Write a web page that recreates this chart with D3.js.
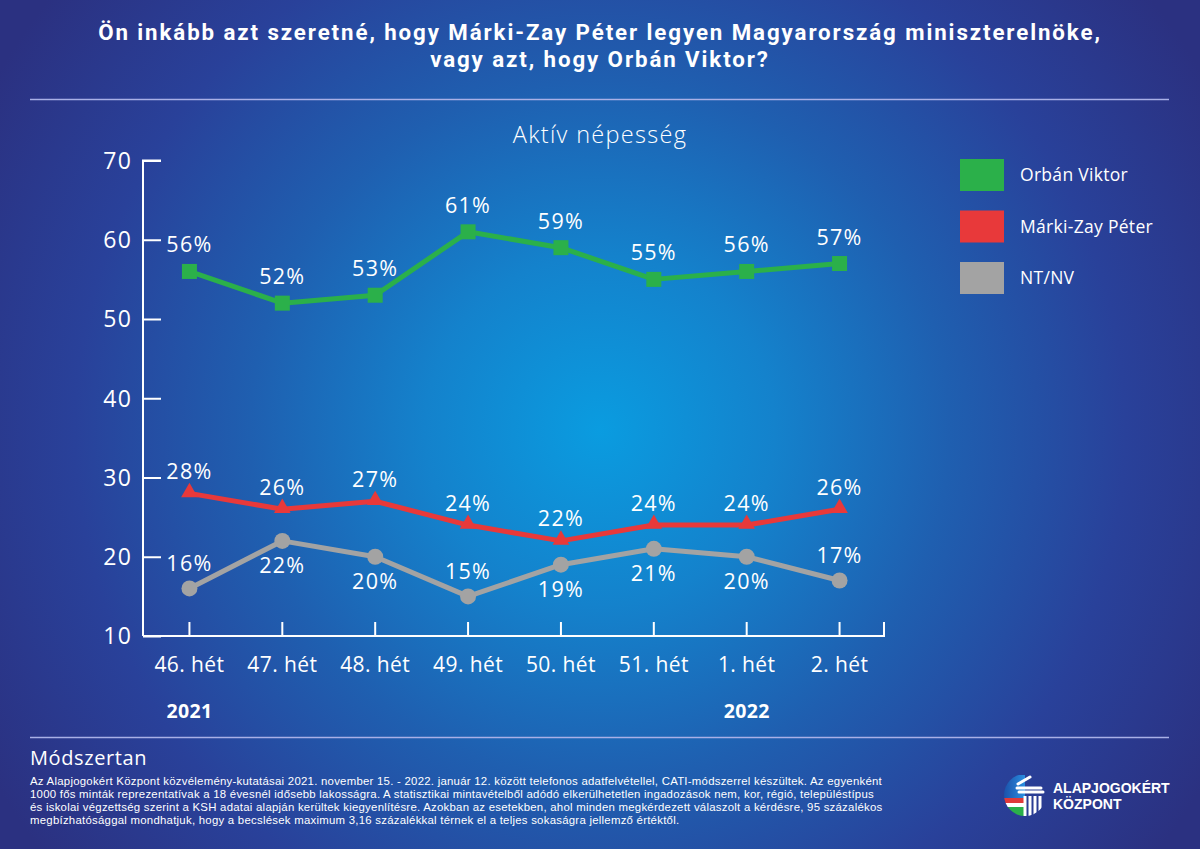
<!DOCTYPE html>
<html><head><meta charset="utf-8">
<script src="https://cdn.jsdelivr.net/npm/d3@7"></script>
<style>
html,body{margin:0;padding:0;background:#2b3282;}
svg{display:block;font-family:"Open Sans","Noto Sans",sans-serif;}
</style></head>
<body>
<svg id="c" width="1200" height="849"></svg>
<script>
const weeks = ["46. hét","47. hét","48. hét","49. hét","50. hét","51. hét","1. hét","2. hét"];
const years = [{week:"46. hét", label:"2021"},{week:"1. hét", label:"2022"}];
const orban = [56,52,53,61,59,55,56,57];
const markiZay = [28,26,27,24,22,24,24,26];
const ntnv = [16,22,20,15,19,21,20,17];
const ntnvLabelSide = ["above","below","below","above","below","below","below","above"];
const yTicks = [10,20,30,40,50,60,70];
const seriesNames = ["Orbán Viktor","Márki-Zay Péter","NT/NV"];
const seriesColors = ["#2bb04a","#e8393a","#a3a3a3"];
const titleLines = ["Ön inkább azt szeretné, hogy Márki-Zay Péter legyen Magyarország miniszterelnöke,","vagy azt, hogy Orbán Viktor?"];

const svg = d3.select("#c");
const W = 1200, H = 849;

// background
const defs = svg.append("defs");
const rg = defs.append("radialGradient").attr("id","bg")
  .attr("gradientUnits","userSpaceOnUse").attr("cx",600).attr("cy",430).attr("r",700);
[[0,"#0a9ce0"],[0.25,"#1482cc"],[0.5,"#1f5fb0"],[0.75,"#29419a"],[1,"#2b3181"]]
  .forEach(([o,c])=>rg.append("stop").attr("offset",o).attr("stop-color",c));
svg.append("rect").attr("width",W).attr("height",H).attr("fill","url(#bg)");

// title
svg.append("g").selectAll("text").data(titleLines).join("text")
  .attr("x",600).attr("y",(d,i)=>40+i*26.5).attr("text-anchor","middle").attr("fill","#fff")
  .style("font-family","Roboto,'Liberation Sans',sans-serif")
  .attr("font-weight",700).attr("font-size",22.3).attr("letter-spacing",1.9).text(d=>d);

svg.append("line").attr("x1",30).attr("x2",1169).attr("y1",99.5).attr("y2",99.5)
  .attr("stroke","#a9b0e6").attr("stroke-width",1.5);

svg.append("text").attr("x",600).attr("y",143).attr("text-anchor","middle")
  .attr("fill","#fff").attr("font-size",23.5).attr("font-weight",300).attr("letter-spacing",1.3)
  .text("Aktív népesség");

// scales
const x = d3.scaleBand().domain(weeks).range([143,886]);
const cx = d => x(d) + x.bandwidth()/2;
const y = d3.scaleLinear().domain([10,70]).range([636,160.5]);

const g = svg.append("g");
// y axis
const yAxis = g.append("g").attr("transform","translate(143,0)")
  .call(d3.axisRight(y).tickValues(yTicks).tickSize(18).tickFormat(""));
yAxis.selectAll("path,line").attr("stroke","#fff").attr("stroke-width",2);
yAxis.select(".domain").attr("d",`M18,${y(70)}H0V${y(10)}`);
g.append("g").selectAll("text").data(yTicks).join("text")
  .attr("x",132).attr("y",d=>y(d)).attr("dy","0.36em").attr("text-anchor","end")
  .attr("fill","#fff").attr("font-size",23).attr("letter-spacing",1.2).text(d=>d);

// x axis
const xAxis = g.append("g").attr("transform",`translate(0,${y(10)})`)
  .call(d3.axisTop(x).tickSize(14).tickSizeOuter(0).tickFormat(""));
xAxis.selectAll("path,line").attr("stroke","#fff").attr("stroke-width",2);
xAxis.select(".domain").attr("d",`M143,0H884V-14`);
g.append("g").selectAll("text").data(weeks).join("text")
  .attr("x",d=>cx(d)).attr("y",672).attr("text-anchor","middle")
  .attr("fill","#fff").attr("font-size",21).attr("letter-spacing",0.4).text(d=>d);
g.append("g").selectAll("text").data(years).join("text")
  .attr("x",d=>cx(d.week)).attr("y",718).attr("text-anchor","middle")
  .attr("fill","#fff").attr("font-size",19.5).attr("font-weight",700).attr("letter-spacing",0.3)
  .text(d=>d.label);

// lines
const line = d3.line().x((d,i)=>cx(weeks[i])).y(d=>y(d));
const allSeries = [orban, markiZay, ntnv];
allSeries.forEach((s,k)=>{
  g.append("path").datum(s).attr("d",line).attr("fill","none")
    .attr("stroke",seriesColors[k]).attr("stroke-width",5).attr("stroke-linejoin","round");
});
// markers
g.append("g").selectAll("rect").data(orban).join("rect")
  .attr("x",(d,i)=>cx(weeks[i])-7.5).attr("y",d=>y(d)-7.5).attr("width",15).attr("height",15)
  .attr("fill",seriesColors[0]);
const tri = d3.symbol().type(d3.symbolTriangle).size(120);
g.append("g").selectAll("path").data(markiZay).join("path")
  .attr("transform",(d,i)=>`translate(${cx(weeks[i])},${y(d)-1})`).attr("d",tri)
  .attr("fill",seriesColors[1]);
g.append("g").selectAll("circle").data(ntnv).join("circle")
  .attr("cx",(d,i)=>cx(weeks[i])).attr("cy",d=>y(d)).attr("r",8)
  .attr("fill",seriesColors[2]);

// data labels
const lab = (data, dyFn) => g.append("g").selectAll("text").data(data).join("text")
  .attr("x",(d,i)=>cx(weeks[i])).attr("y",(d,i)=>y(d)+dyFn(d,i))
  .attr("text-anchor","middle").attr("fill","#fff").attr("font-size",21.5)
  .attr("letter-spacing",1.3).text(d=>d+"%");
lab(orban, ()=> -19);
lab(markiZay, ()=> -14.5);
lab(ntnv, (d,i)=> ntnvLabelSide[i]==="above" ? -17.5 : 32);

// legend
const leg = svg.append("g").selectAll("g").data(seriesNames).join("g")
  .attr("transform",(d,i)=>`translate(960,${159+i*51.5})`);
leg.append("rect").attr("width",44).attr("height",32).attr("fill",(d,i)=>seriesColors[i]);
leg.append("text").attr("x",60).attr("y",16).attr("dy","0.35em").attr("fill","#fff")
  .attr("font-size",17.5).attr("letter-spacing",0.3).text(d=>d);

// footer
svg.append("line").attr("x1",30).attr("x2",1169).attr("y1",737.5).attr("y2",737.5)
  .attr("stroke","#a9b0e6").attr("stroke-width",1.5);
svg.append("text").attr("x",30).attr("y",765).attr("fill","#fff").attr("font-size",20)
  .attr("letter-spacing",0.6).text("Módszertan");
const foot = [
 "Az Alapjogokért Központ közvélemény-kutatásai 2021. november 15. - 2022. január 12. között telefonos adatfelvétellel, CATI-módszerrel készültek. Az egyenként",
 "1000 fős minták reprezentatívak a 18 évesnél idősebb lakosságra. A statisztikai mintavételből adódó elkerülhetetlen ingadozások nem, kor, régió, településtípus",
 "és iskolai végzettség szerint a KSH adatai alapján kerültek kiegyenlítésre. Azokban az esetekben, ahol minden megkérdezett válaszolt a kérdésre, 95 százalékos",
 "megbízhatósággal mondhatjuk, hogy a becslések maximum 3,16 százalékkal térnek el a teljes sokaságra jellemző értéktől."
];
svg.append("g").selectAll("text").data(foot).join("text")
  .attr("x",30).attr("y",(d,i)=>785+i*13).attr("fill","#fff")
  .style("font-family",'"Liberation Sans",Arial,sans-serif')
  .attr("font-size",11.4).attr("letter-spacing",0.25).text(d=>d);

// logo
const logo = svg.append("g").attr("transform","translate(1003,775)");
defs.append("clipPath").attr("id","lc").append("circle").attr("cx",22).attr("cy",20).attr("r",21);
const lg = defs.append("linearGradient").attr("id","lgb").attr("x1",0).attr("x2",1).attr("y1",0).attr("y2",0);
lg.append("stop").attr("offset",0).attr("stop-color","#1a4fa8");
lg.append("stop").attr("offset",1).attr("stop-color","#2a8ee0");
const lcl = logo.append("g").attr("clip-path","url(#lc)");
lcl.append("rect").attr("x",0).attr("y",0).attr("width",22).attr("height",23).attr("fill","url(#lgb)");
lcl.append("rect").attr("x",0).attr("y",23).attr("width",22).attr("height",5).attr("fill","#e03a3a");
lcl.append("rect").attr("x",0).attr("y",28).attr("width",22).attr("height",4).attr("fill","#ffffff");
lcl.append("rect").attr("x",0).attr("y",32).attr("width",22).attr("height",10).attr("fill","#2bb04a");
logo.append("path").attr("d","M27,2 L15,9 M14,13 H38 M16,17 H40")
  .attr("stroke","#fff").attr("stroke-width",3).attr("fill","none").attr("stroke-linecap","round");
lcl.append("path").attr("d","M22,21 V42 M27,21 V42 M32,21 V40 M37,21 V36")
  .attr("stroke","#fff").attr("stroke-width",3).attr("fill","none");
logo.append("g").selectAll("text").data(["ALAPJOGOKÉRT","KÖZPONT"]).join("text")
  .attr("x",50).attr("y",(d,i)=>18+i*16).attr("fill","#fff")
  .style("font-family",'"Liberation Sans",Arial,sans-serif')
  .attr("font-size",14).attr("font-weight",700).text(d=>d);
</script>
</body></html>
